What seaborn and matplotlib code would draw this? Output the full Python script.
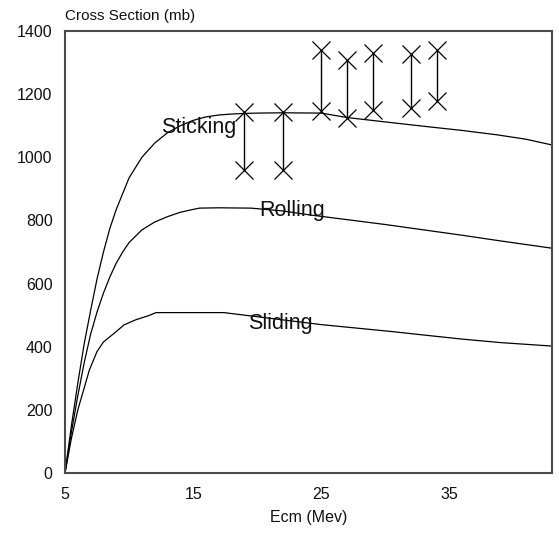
"""Cross section vs Ecm: sticking / rolling / sliding model curves with data bars."""

import matplotlib

matplotlib.use("Agg")

import matplotlib.pyplot as plt
import pandas as pd
import seaborn as sns

# model curves
sticking_x = [5, 5.5, 6, 6.5, 7, 7.5, 8, 8.5, 9, 10, 11, 12, 13, 14, 15, 16, 17, 18, 19, 20, 22, 25, 27, 30, 33.5, 36, 38.75, 41, 43]
sticking_y = [0, 150, 285, 410, 515, 615, 700, 775, 835, 935, 1000, 1045, 1078, 1100, 1117, 1128, 1134, 1137, 1139, 1140, 1141, 1140, 1126, 1112, 1096, 1085, 1071, 1057, 1039]

rolling_x = [5, 5.5, 6, 6.5, 7, 7.5, 8, 8.5, 9, 9.5, 10, 11, 12, 13, 14, 15, 15.5, 17, 19.5, 22, 24, 27.3, 30, 33, 36, 39, 43]
rolling_y = [0, 130, 245, 350, 440, 510, 570, 621, 665, 700, 730, 770, 795, 812, 826, 835, 839, 840, 839, 830, 818, 801, 787, 770, 753, 735, 712]

sliding_x = [5, 5.5, 6, 6.5, 6.9, 7.5, 8, 9, 9.6, 10.5, 11.5, 12.1, 17.4, 20, 22, 25, 28, 30.5, 33, 36, 39, 43]
sliding_y = [0, 110, 200, 270, 326, 385, 415, 448, 469, 485, 498, 508, 508, 495, 485, 470, 458, 448, 437, 424, 413, 402]

# measured points: lower and upper ends of each bar
bar_x = [19, 22, 25, 27, 29, 32, 34]
bar_low = [960, 960, 1147, 1126, 1151, 1156, 1178]
bar_high = [1144, 1144, 1339, 1308, 1329, 1328, 1339]

curve_labels = ["Sticking", "Rolling", "Sliding"]
label_x = [15.45, 22.7, 21.8]
label_y = [1093, 833, 474]

x_ticks = [5, 15, 25, 35]
y_ticks = [0, 200, 400, 600, 800, 1000, 1200, 1400]

sns.set_style("white")
plt.rcParams["font.family"] = ["Liberation Sans", "DejaVu Sans"]

fig = plt.figure(figsize=(5.59, 5.33), dpi=100)
ax = fig.add_axes([0.1163, 0.1126, 0.8712, 0.8292])

curves = [(sticking_x, sticking_y), (rolling_x, rolling_y), (sliding_x, sliding_y)]
for (cx, cy) in curves:
    df = pd.DataFrame({"ecm": cx, "sigma": cy})
    sns.lineplot(data=df, x="ecm", y="sigma", ax=ax, color="black", linewidth=0.9, sort=False)

bars = pd.DataFrame({"ecm": bar_x, "low": bar_low, "high": bar_high})
ax.vlines(bars["ecm"], bars["low"], bars["high"], color="black", linewidth=1.0)
ends = pd.concat(
    [bars[["ecm", "low"]].rename(columns={"low": "sigma"}), bars[["ecm", "high"]].rename(columns={"high": "sigma"})]
)
ax.plot(ends["ecm"], ends["sigma"], linestyle="none", marker="x", markersize=13,
        markeredgewidth=0.9, color="black")

for name, lx, ly in zip(curve_labels, label_x, label_y):
    ax.text(lx, ly, name, ha="center", va="center", fontsize=15.5, color="#111111")

ax.set_xlim(5, 43)
ax.set_ylim(0, 1400)
ax.set_xticks(x_ticks)
ax.set_yticks(y_ticks)
ax.tick_params(axis="both", length=0, labelsize=11.5, colors="#111111")
ax.tick_params(axis="x", pad=10)
ax.tick_params(axis="y", pad=9)
ax.set_xlabel("Ecm (Mev)", fontsize=11.5, labelpad=6, color="#111111")
ax.set_ylabel("")
for spine in ax.spines.values():
    spine.set_visible(True)
    spine.set_color("#4a4a4a")
    spine.set_linewidth(1.5)

fig.text(0.1163, 0.97, "Cross Section (mb)", ha="left", va="center", fontsize=11, color="#111111")

fig.savefig("out.png", dpi=100)
plt.close(fig)
